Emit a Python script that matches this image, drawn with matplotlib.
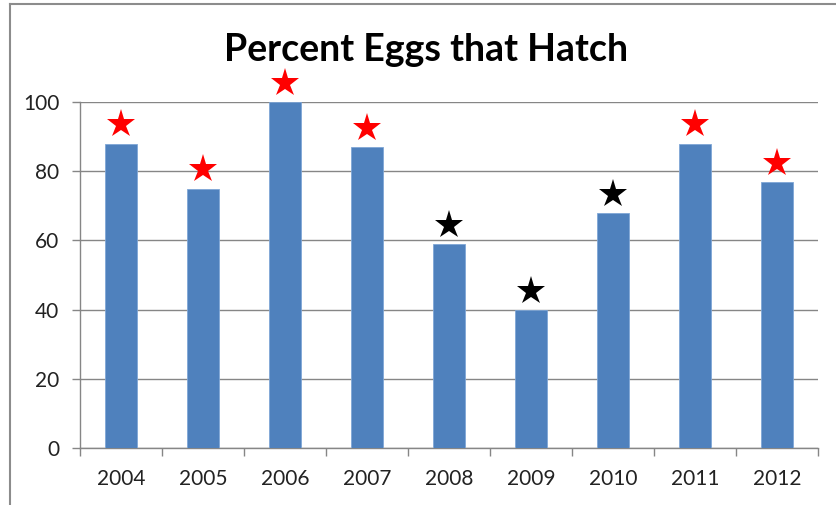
import matplotlib
matplotlib.use("Agg")
import matplotlib.pyplot as plt
from matplotlib.lines import Line2D

years = ["2004", "2005", "2006", "2007", "2008", "2009", "2010", "2011", "2012"]
pct_hatch = [88, 75, 100, 87, 59, 40, 68, 88, 77]
star_colors = ["red", "red", "red", "red", "black", "black", "black", "red", "red"]
yticks = [0, 20, 40, 60, 80, 100]

plt.rcParams["font.family"] = ["Lato", "DejaVu Sans"]

fig = plt.figure(figsize=(8.36, 5.05), dpi=100)
ax = fig.add_axes([80 / 836, 1 - 448 / 505, 738 / 836, 346 / 505])

x = list(range(len(years)))
ax.bar(x, pct_hatch, width=0.39, color="#4F81BD", edgecolor="#7FA6D6",
       linewidth=0.6, zorder=3)
for xi, v, c in zip(x, pct_hatch, star_colors):
    ax.plot(xi, v + 5.5, marker="*", color=c, markersize=21, clip_on=False,
            zorder=4, markeredgewidth=0)

ax.set_xlim(-0.5, len(years) - 0.5)
ax.set_ylim(0, 100)
ax.set_yticks(yticks)
ax.set_yticklabels([str(t) for t in yticks], fontsize=15, color="#222222")
ax.set_xticks(x)
ax.set_xticklabels(years, fontsize=15, color="#222222")
ax.tick_params(axis="x", length=0, pad=15)
ax.set_xticks([i - 0.5 for i in range(len(years) + 1)], minor=True)
ax.tick_params(axis="x", which="minor", length=6, color="#868686", width=1)
ax.tick_params(axis="y", length=6, color="#868686", width=1, pad=9)

ax.grid(axis="y", color="#868686", linewidth=1, zorder=0)
ax.set_axisbelow(True)
for s in ("top", "right"):
    ax.spines[s].set_visible(False)
for s in ("left", "bottom"):
    ax.spines[s].set_color("#868686")
    ax.spines[s].set_linewidth(1)

fig.text(426 / 836, 1 - 50 / 505, "Percent Eggs that Hatch", ha="center",
         va="center", fontsize=27, fontweight="bold")

# outer chart frame (only left and top edges visible in the crop)
fig.add_artist(Line2D([10 / 836, 10 / 836], [0, 1 - 4 / 505],
                      transform=fig.transFigure, color="#8C8C8C", lw=1.5))
fig.add_artist(Line2D([10 / 836, 1], [1 - 4 / 505, 1 - 4 / 505],
                      transform=fig.transFigure, color="#8C8C8C", lw=1.5))

fig.savefig("out.png", dpi=100)
